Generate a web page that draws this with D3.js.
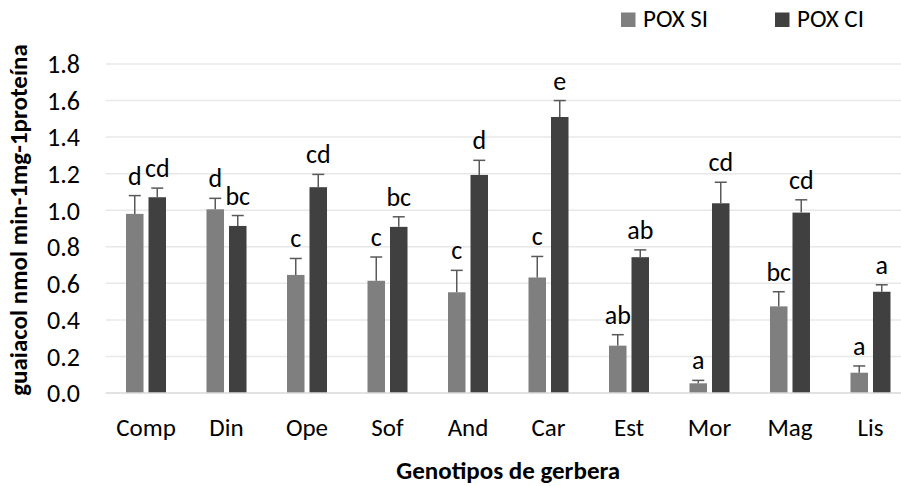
<!DOCTYPE html>
<html>
<head>
<meta charset="utf-8">
<script src="https://cdn.jsdelivr.net/npm/d3@7"></script>
<style>
  body { margin: 0; background: #fff; }
  svg text { font-family: Carlito, Calibri, Lato, sans-serif; fill: #000; }
</style>
</head>
<body>
<div id="chart"></div>
<script>
var categories = ["Comp", "Din", "Ope", "Sof", "And", "Car", "Est", "Mor", "Mag", "Lis"];
var series = ["POX SI", "POX CI"];
var valuesSI = [0.98, 1.005, 0.646, 0.614, 0.551, 0.632, 0.259, 0.053, 0.474, 0.111];
var valuesCI = [1.071, 0.914, 1.126, 0.909, 1.193, 1.51, 0.743, 1.038, 0.987, 0.554];
var errorsSI = [0.10, 0.06, 0.09, 0.13, 0.12, 0.115, 0.06, 0.016, 0.08, 0.037];
var errorsCI = [0.05, 0.057, 0.07, 0.055, 0.08, 0.09, 0.04, 0.115, 0.07, 0.038];
var lettersSI = ["d", "d", "c", "c", "c", "c", "ab", "a", "bc", "a"];
var lettersCI = ["cd", "bc", "cd", "bc", "d", "e", "ab", "cd", "cd", "a"];
var yTicks = [0, 0.2, 0.4, 0.6, 0.8, 1.0, 1.2, 1.4, 1.6, 1.8];

var colors = { "POX SI": "#7f7f7f", "POX CI": "#404040" };

var width = 901, height = 486;
var plot = { left: 105.75, right: 910.75, top: 64, bottom: 393 };

var svg = d3.select("#chart")
  .append("svg")
    .attr("width", width)
    .attr("height", height);

var x = d3.scaleBand()
    .domain(categories)
    .range([plot.left, plot.right])
    .paddingInner(0.503)
    .paddingOuter(0.2516);

var x1 = d3.scaleBand()
    .domain(series)
    .range([0, x.bandwidth()])
    .paddingInner(0.222);

var y = d3.scaleLinear()
    .domain([0, 1.8])
    .range([plot.bottom, plot.top]);

// gridlines
svg.append("g")
  .selectAll("line")
  .data(yTicks.slice(1))
  .enter()
  .append("line")
    .attr("x1", plot.left)
    .attr("x2", plot.right)
    .attr("y1", function(d) { return y(d) })
    .attr("y2", function(d) { return y(d) })
    .style("stroke", "#e8e8e8")
    .style("stroke-width", 1.5);

// y tick labels
svg.append("g")
  .selectAll("text")
  .data(yTicks)
  .enter()
  .append("text")
    .attr("x", 80)
    .attr("y", function(d) { return y(d) })
    .attr("dy", "0.36em")
    .attr("text-anchor", "end")
    .style("font-size", "26px")
    .text(function(d) { return d3.format(".1f")(d) });

var rows = categories.map(function(c, i) {
  return [
    { cat: c, key: "POX SI", v: valuesSI[i], e: errorsSI[i], l: lettersSI[i] },
    { cat: c, key: "POX CI", v: valuesCI[i], e: errorsCI[i], l: lettersCI[i] }
  ];
});
var flat = [].concat.apply([], rows);

var bars = svg.append("g");

bars.selectAll("rect")
  .data(flat)
  .enter()
  .append("rect")
    .attr("x", function(d) { return x(d.cat) + x1(d.key) })
    .attr("y", function(d) { return y(d.v) })
    .attr("width", x1.bandwidth())
    .attr("height", function(d) { return y(0) - y(d.v) })
    .style("fill", function(d) { return colors[d.key] });

// error bars (upper only)
var cx = function(d) { return x(d.cat) + x1(d.key) + x1.bandwidth() / 2 };

bars.selectAll("line.err")
  .data(flat)
  .enter()
  .append("line")
    .attr("class", "err")
    .attr("x1", cx)
    .attr("x2", cx)
    .attr("y1", function(d) { return y(d.v) })
    .attr("y2", function(d) { return y(d.v + d.e) })
    .style("stroke", "#595959")
    .style("stroke-width", 1.5);

bars.selectAll("line.cap")
  .data(flat)
  .enter()
  .append("line")
    .attr("class", "cap")
    .attr("x1", function(d) { return cx(d) - 6 })
    .attr("x2", function(d) { return cx(d) + 6 })
    .attr("y1", function(d) { return y(d.v + d.e) })
    .attr("y2", function(d) { return y(d.v + d.e) })
    .style("stroke", "#595959")
    .style("stroke-width", 1.5);

// significance letters
bars.selectAll("text")
  .data(flat)
  .enter()
  .append("text")
    .attr("x", cx)
    .attr("y", function(d) { return y(d.v + d.e) - 11 })
    .attr("text-anchor", "middle")
    .style("font-size", "26px")
    .text(function(d) { return d.l });

// baseline
svg.append("line")
    .attr("x1", plot.left)
    .attr("x2", plot.right)
    .attr("y1", y(0))
    .attr("y2", y(0))
    .style("stroke", "#d9d9d9")
    .style("stroke-width", 1.5);

// x tick labels
svg.append("g")
  .selectAll("text")
  .data(categories)
  .enter()
  .append("text")
    .attr("x", function(d) { return x(d) + x.bandwidth() / 2 })
    .attr("y", 436)
    .attr("text-anchor", "middle")
    .style("font-size", "25px")
    .text(function(d) { return d });

// axis titles
svg.append("text")
    .attr("x", (plot.left + plot.right) / 2)
    .attr("y", 479)
    .attr("text-anchor", "middle")
    .style("font-size", "25px")
    .style("font-weight", "bold")
    .text("Genotipos de gerbera");

svg.append("text")
    .attr("transform", "translate(27,220) rotate(-90)")
    .attr("text-anchor", "middle")
    .style("font-size", "25px")
    .style("font-weight", "bold")
    .text("guaiacol nmol min-1mg-1proteína");

// legend
var legendX = [621, 775];
var legend = svg.append("g")
  .selectAll("g")
  .data(series)
  .enter()
  .append("g")
    .attr("transform", function(d, i) { return "translate(" + legendX[i] + ",12.5)" });

legend.append("rect")
    .attr("width", 14.5)
    .attr("height", 14.5)
    .style("fill", function(d) { return colors[d] });

legend.append("text")
    .attr("x", 22)
    .attr("y", 14.5)
    .style("font-size", "25px")
    .text(function(d) { return d });
</script>
</body>
</html>
